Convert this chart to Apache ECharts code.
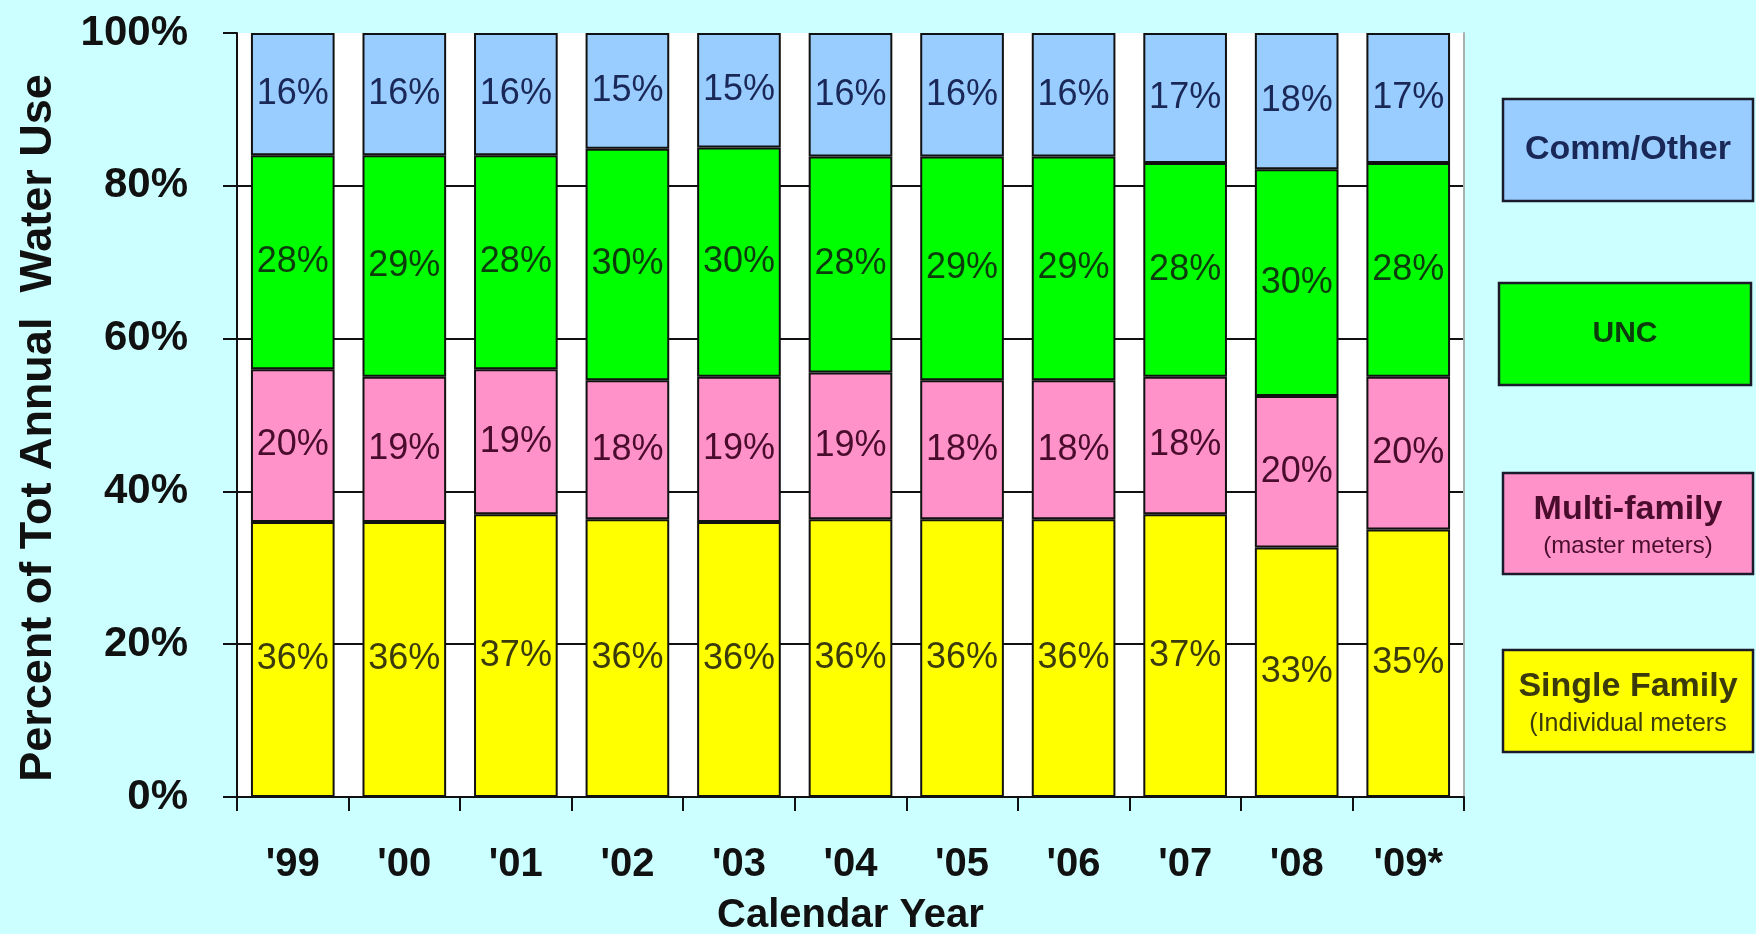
<!DOCTYPE html>
<html>
<head>
<meta charset="utf-8">
<title>Percent of Total Annual Water Use by Customer Class</title>
<script src="https://cdn.jsdelivr.net/npm/echarts@6/dist/echarts.min.js"></script>
<style>
  html, body { margin: 0; padding: 0; background: #ccffff; }
  #chart { width: 1756px; height: 934px; }
</style>
</head>
<body>
<div id="chart"></div>
<script>
// Calendar years on the category axis
const years = ["'99", "'00", "'01", "'02", "'03", "'04", "'05", "'06", "'07", "'08", "'09*"];

// Share of total annual water use (%), by customer class
const singleFamily = [36, 36, 37, 36, 36, 36, 36, 36, 37, 33, 35];
const multiFamily  = [20, 19, 19, 18, 19, 19, 18, 18, 18, 20, 20];
const unc          = [28, 29, 28, 30, 30, 28, 29, 29, 28, 30, 28];
const commOther    = [16, 16, 16, 15, 15, 16, 16, 16, 17, 18, 17];

// Y axis tick values
const yTicks = [0, 20, 40, 60, 80, 100];

// Class names, bottom of the stack first
const classNames = ['Single Family', 'Multi-family', 'UNC', 'Comm/Other'];
const classNotes = ['(Individual meters', '(master meters)', '', ''];
const classValues = [singleFamily, multiFamily, unc, commOther];

const fillColors  = ['#ffff00', '#ff93c9', '#00ff00', '#99ccff'];
const labelColors = ['#3a3a0c', '#4a0c2c', '#0c3c0c', '#1a2858'];

// 100% stacking: each column is scaled to its own total
const totals = years.map((_, i) => classValues.reduce((s, arr) => s + arr[i], 0));

const FONT = '"Liberation Sans", Arial, sans-serif';

const series = classNames.map((name, k) => ({
  name: name,
  type: 'bar',
  stack: 'share',
  barWidth: '75%',
  data: classValues[k].map((v, i) => ({ value: v / totals[i] * 100, raw: v })),
  itemStyle: { color: fillColors[k], borderColor: '#111', borderWidth: 2 },
  label: {
    show: true,
    position: 'inside',
    fontFamily: FONT,
    fontSize: 36,
    color: labelColors[k],
    formatter: p => p.data.raw + '%'
  },
  emphasis: { disabled: true }
}));

// Boxed key on the right, top entry = top of the stack
const keyBoxes = [
  { k: 3, x: 1503, y: 99,  w: 250, h: 102 },
  { k: 2, x: 1499, y: 283, w: 252, h: 102 },
  { k: 1, x: 1503, y: 473, w: 250, h: 101 },
  { k: 0, x: 1503, y: 650, w: 250, h: 102 }
];
const graphic = [];
keyBoxes.forEach(b => {
  const hasNote = classNotes[b.k] !== '';
  graphic.push({
    type: 'rect',
    shape: { x: b.x, y: b.y, width: b.w, height: b.h },
    style: { fill: fillColors[b.k], stroke: '#1a1a2a', lineWidth: 2.5 }
  });
  graphic.push({
    type: 'text',
    x: b.x + b.w / 2,
    y: b.y + b.h / 2 + (hasNote ? -14 : 0),
    style: {
      text: classNames[b.k],
      font: 'bold ' + (b.k === 2 ? 30 : 34) + 'px ' + FONT,
      fill: labelColors[b.k],
      align: 'center',
      verticalAlign: 'middle'
    }
  });
  if (hasNote) {
    graphic.push({
      type: 'text',
      x: b.x + b.w / 2,
      y: b.y + b.h / 2 + 23,
      style: {
        text: classNotes[b.k],
        font: (b.k === 0 ? 25 : 24) + 'px ' + FONT,
        fill: labelColors[b.k],
        align: 'center',
        verticalAlign: 'middle'
      }
    });
  }
});

const chart = echarts.init(document.getElementById('chart'), null, { renderer: 'canvas' });
chart.setOption({
  backgroundColor: '#ccffff',
  animation: false,
  grid: {
    left: 237, right: 292, top: 33, bottom: 137,
    outerBoundsMode: 'none',
    containLabel: false,
    show: true, backgroundColor: '#ffffff', borderWidth: 0
  },
  xAxis: {
    type: 'category',
    data: years,
    name: 'Calendar Year',
    nameLocation: 'middle',
    nameGap: 99,
    nameTextStyle: { fontFamily: FONT, fontSize: 40, fontWeight: 'bold', color: '#111' },
    axisLine: { show: true, lineStyle: { color: '#111', width: 2 } },
    axisTick: { show: true, length: 14, alignWithLabel: false, lineStyle: { color: '#111', width: 2 } },
    axisLabel: { margin: 48, fontFamily: FONT, fontSize: 40, fontWeight: 'bold', color: '#111' },
    z: 5
  },
  yAxis: [{
    type: 'value',
    min: yTicks[0],
    max: yTicks[yTicks.length - 1],
    interval: yTicks[1] - yTicks[0],
    name: 'Percent of Tot Annual  Water Use',
    nameLocation: 'middle',
    nameRotate: 90,
    nameGap: 176,
    nameTextStyle: { fontFamily: FONT, fontSize: 45, fontWeight: 'bold', color: '#111', padding: [0, 26, 0, 0] },
    axisLine: { show: true, lineStyle: { color: '#111', width: 2 } },
    axisTick: { show: true, length: 14, lineStyle: { color: '#111', width: 2 } },
    axisLabel: { margin: 49, fontFamily: FONT, fontSize: 42, fontWeight: 'bold', color: '#111', formatter: '{value}%' },
    splitLine: { show: true, lineStyle: { color: ['#111', '#111', '#111', '#111', '#111', 'rgba(0,0,0,0)'], width: 2 } }
  }, {
    type: 'value',
    position: 'right',
    min: yTicks[0],
    max: yTicks[yTicks.length - 1],
    interval: yTicks[1] - yTicks[0],
    axisLine: { show: true, lineStyle: { color: '#a8b0b0', width: 2 } },
    axisTick: { show: false },
    axisLabel: { show: false },
    splitLine: { show: false }
  }],
  series: series,
  graphic: graphic
});
</script>
</body>
</html>
